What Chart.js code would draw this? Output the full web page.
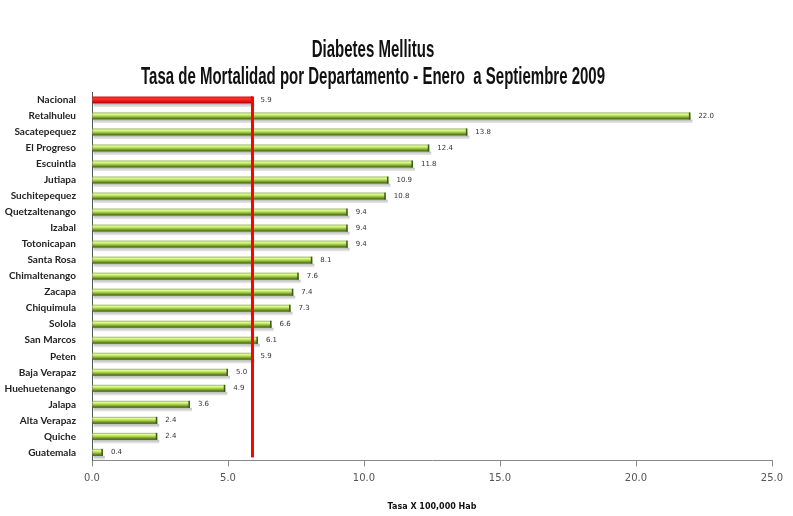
<!DOCTYPE html>
<html>
<head>
<meta charset="utf-8">
<script src="https://cdn.jsdelivr.net/npm/chart.js@4/dist/chart.umd.min.js"></script>
<style>
  html, body { margin: 0; padding: 0; background: #fff; }
  #wrap { position: relative; width: 793px; height: 516px; }
</style>
</head>
<body>
<div id="wrap"><canvas id="c" width="793" height="516"></canvas></div>
<script>
// Diabetes mellitus mortality rate per 100,000 inhabitants, Jan-Sep 2009
const departamentos = [
  'Nacional', 'Retalhuleu', 'Sacatepequez', 'El Progreso', 'Escuintla', 'Jutiapa',
  'Suchitepequez', 'Quetzaltenango', 'Izabal', 'Totonicapan', 'Santa Rosa',
  'Chimaltenango', 'Zacapa', 'Chiquimula', 'Solola', 'San Marcos', 'Peten',
  'Baja Verapaz', 'Huehuetenango', 'Jalapa', 'Alta Verapaz', 'Quiche', 'Guatemala'
];
const tasas = [
  5.9, 22.0, 13.8, 12.4, 11.8, 10.9,
  10.8, 9.4, 9.4, 9.4, 8.1,
  7.6, 7.4, 7.3, 6.6, 6.1, 5.9,
  5.0, 4.9, 3.6, 2.4, 2.4, 0.4
];
const tasaNacional = 5.9;
const xTicks = [0, 5, 10, 15, 20, 25];
const tituloLineas = ['Diabetes Mellitus', 'Tasa de Mortalidad por Departamento - Enero  a Septiembre 2009'];
const ejeX = 'Tasa X 100,000 Hab';

// Condensed two-line heading
const headingPlugin = {
  id: 'heading',
  afterDraw(chart) {
    const ctx = chart.ctx;
    ctx.save();
    ctx.fillStyle = '#111';
    ctx.textAlign = 'center';
    ctx.textBaseline = 'alphabetic';
    ctx.font = 'bold 24px "Liberation Sans Narrow", "Liberation Sans", sans-serif';
    const cx = 373, sx = 0.625;
    const ys = [57, 84];
    tituloLineas.forEach((t, i) => {
      ctx.save();
      ctx.translate(cx, ys[i]);
      ctx.scale(sx, 1);
      ctx.fillText(t, 0, 0);
      ctx.restore();
    });
    ctx.restore();
  }
};

// 3D-looking bars with drop shadow, value labels and national reference line
const barsPlugin = {
  id: 'styledBars',
  afterDatasetsDraw(chart) {
    const ctx = chart.ctx;
    const meta = chart.getDatasetMeta(0);
    const xs = chart.scales.x;
    const area = chart.chartArea;
    ctx.save();
    meta.data.forEach((el, i) => {
      const x0 = el.base, x1 = el.x;
      const h = el.height;
      const top = el.y - h / 2, bot = el.y + h / 2;
      const red = i === 0;
      // shadow
      ctx.fillStyle = 'rgba(150,150,150,0.55)';
      ctx.fillRect(x0 + 1, bot, x1 - x0 + 1, 2);
      ctx.fillStyle = 'rgba(190,190,190,0.45)';
      ctx.fillRect(x0 + 1, bot + 2, x1 - x0 + 1, 1.5);
      // body
      const g = ctx.createLinearGradient(0, top, 0, bot);
      if (red) {
        g.addColorStop(0, '#d01010');
        g.addColorStop(0.3, '#ff3030');
        g.addColorStop(0.6, '#f01818');
        g.addColorStop(1, '#a00000');
      } else {
        g.addColorStop(0, '#7fa83a');
        g.addColorStop(0.2, '#eef99a');
        g.addColorStop(0.45, '#b8e05a');
        g.addColorStop(0.75, '#6e9a2a');
        g.addColorStop(1, '#34521a');
      }
      ctx.fillStyle = g;
      ctx.fillRect(x0, top, x1 - x0, h);
      // end cap
      ctx.fillStyle = red ? '#8a0000' : '#3c5a1c';
      ctx.fillRect(x1 - 1.5, top, 1.5, h);
      // value label
      ctx.fillStyle = '#333';
      ctx.font = '7px "DejaVu Sans", sans-serif';
      ctx.textAlign = 'left';
      ctx.textBaseline = 'middle';
      ctx.fillText(tasas[i].toFixed(1), x1 + 8, el.y);
    });
    // national reference line
    const xn = xs.getPixelForValue(tasaNacional);
    const first = meta.data[0];
    const yTop = first.y - first.height / 2;
    ctx.fillStyle = '#ff0000';
    ctx.fillRect(xn - 1.5, yTop, 3, area.bottom - 3 - yTop);
    ctx.restore();
  }
};

new Chart(document.getElementById('c'), {
  type: 'bar',
  data: {
    labels: departamentos,
    datasets: [{
      data: tasas,
      backgroundColor: 'rgba(0,0,0,0)',
      borderWidth: 0,
      barThickness: 7
    }]
  },
  options: {
    indexAxis: 'y',
    responsive: false,
    animation: false,
    devicePixelRatio: 1,
    layout: { padding: { top: 92, right: 21, bottom: 4, left: 0 } },
    plugins: {
      legend: { display: false },
      tooltip: { enabled: false },
      title: { display: false }
    },
    scales: {
      x: {
        min: 0, max: 25,
        afterBuildTicks(scale) { scale.ticks = xTicks.map(v => ({ value: v })); },
        grid: { drawOnChartArea: false, drawTicks: true, tickLength: 6, color: '#888' },
        border: { display: true, color: '#888', width: 1 },
        ticks: {
          color: '#555',
          padding: 6,
          font: { family: '"DejaVu Sans", sans-serif', size: 10 },
          callback: v => Number(v).toFixed(1)
        },
        title: {
          display: true,
          text: ejeX,
          color: '#111',
          padding: { top: 12, bottom: 0 },
          font: { family: '"DejaVu Sans", sans-serif', size: 8, weight: 'bold' }
        }
      },
      y: {
        afterFit(scale) { scale.width = 92; },
        grid: { display: false },
        border: { display: true, color: '#555', width: 1 },
        ticks: {
          color: '#222',
          padding: 8,
          font: { family: 'Lato, sans-serif', size: 10, weight: 'bold' }
        }
      }
    }
  },
  plugins: [headingPlugin, barsPlugin]
});
</script>
</body>
</html>
